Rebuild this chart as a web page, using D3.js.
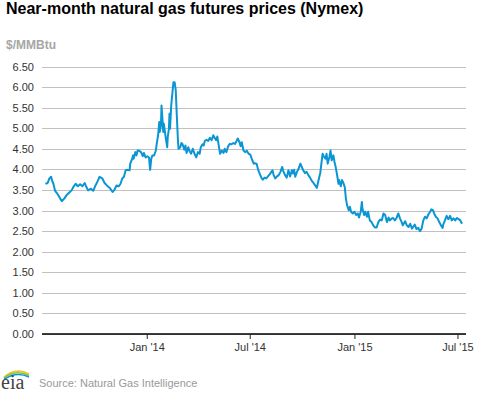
<!DOCTYPE html>
<html>
<head>
<meta charset="utf-8">
<script src="https://cdn.jsdelivr.net/npm/d3@7"></script>
<style>
  body { margin: 0; background: #fff; }
  svg { display: block; font-family: "Liberation Sans", Arial, sans-serif; }
</style>
</head>
<body>
<div id="chart"></div>
<script>
// near-month price, $/MMBtu
var dates = [
  '2013-07-07','2013-07-11','2013-07-14','2013-07-17','2013-07-19','2013-07-21','2013-07-24','2013-07-28',
  '2013-08-02','2013-08-05','2013-08-09','2013-08-13','2013-08-18','2013-08-22','2013-08-25','2013-08-29',
  '2013-09-02','2013-09-06','2013-09-10','2013-09-14','2013-09-17','2013-09-20','2013-09-25','2013-09-29',
  '2013-10-03','2013-10-07','2013-10-10','2013-10-15','2013-10-19','2013-10-23','2013-10-28',
  '2013-11-02','2013-11-05','2013-11-09','2013-11-13','2013-11-16','2013-11-19','2013-11-22','2013-11-25','2013-11-28',
  '2013-12-02','2013-12-03','2013-12-06','2013-12-08','2013-12-09','2013-12-12','2013-12-14','2013-12-16',
  '2013-12-19','2013-12-22','2013-12-25','2013-12-27','2013-12-30',
  '2014-01-02','2014-01-05','2014-01-07','2014-01-09','2014-01-11','2014-01-14','2014-01-17','2014-01-19',
  '2014-01-21','2014-01-23','2014-01-24','2014-01-26','2014-01-27','2014-01-29','2014-01-30','2014-01-31',
  '2014-02-02','2014-02-04','2014-02-06','2014-02-07','2014-02-09','2014-02-10','2014-02-11','2014-02-13',
  '2014-02-15','2014-02-17','2014-02-19','2014-02-21','2014-02-23','2014-02-25','2014-02-26',
  '2014-03-01','2014-03-03','2014-03-05','2014-03-08','2014-03-10','2014-03-12','2014-03-15','2014-03-17',
  '2014-03-20','2014-03-23','2014-03-26','2014-03-29',
  '2014-04-01','2014-04-04','2014-04-06','2014-04-09','2014-04-11','2014-04-13','2014-04-16','2014-04-19',
  '2014-04-22','2014-04-25','2014-04-28',
  '2014-05-01','2014-05-03','2014-05-05','2014-05-08','2014-05-10','2014-05-13','2014-05-16','2014-05-18',
  '2014-05-21','2014-05-24','2014-05-27','2014-05-30',
  '2014-06-02','2014-06-05','2014-06-08','2014-06-10','2014-06-13','2014-06-15','2014-06-17','2014-06-20',
  '2014-06-23','2014-06-26','2014-06-29',
  '2014-07-02','2014-07-05','2014-07-08','2014-07-10','2014-07-13','2014-07-16','2014-07-19','2014-07-22',
  '2014-07-24','2014-07-27','2014-07-30',
  '2014-08-02','2014-08-05','2014-08-08','2014-08-10','2014-08-12','2014-08-15','2014-08-18','2014-08-21',
  '2014-08-24','2014-08-27','2014-08-29',
  '2014-09-01','2014-09-04','2014-09-07','2014-09-10','2014-09-13','2014-09-15','2014-09-17','2014-09-19',
  '2014-09-22','2014-09-25','2014-09-28',
  '2014-10-01','2014-10-03','2014-10-06','2014-10-09','2014-10-12','2014-10-15','2014-10-18','2014-10-21',
  '2014-10-24','2014-10-27','2014-10-30',
  '2014-11-02','2014-11-04','2014-11-06','2014-11-08','2014-11-11','2014-11-13','2014-11-15','2014-11-18',
  '2014-11-20','2014-11-22','2014-11-25','2014-11-27','2014-11-29',
  '2014-12-02','2014-12-04','2014-12-05','2014-12-08','2014-12-10','2014-12-12','2014-12-15','2014-12-17',
  '2014-12-19','2014-12-22','2014-12-24','2014-12-26','2014-12-29',
  '2015-01-01','2015-01-04','2015-01-07','2015-01-09','2015-01-12','2015-01-14','2015-01-15','2015-01-18',
  '2015-01-20','2015-01-23','2015-01-25','2015-01-28','2015-01-31',
  '2015-02-03','2015-02-06','2015-02-09','2015-02-12','2015-02-15','2015-02-18','2015-02-21','2015-02-24','2015-02-27',
  '2015-03-02','2015-03-04','2015-03-07','2015-03-10','2015-03-13','2015-03-16','2015-03-19','2015-03-22',
  '2015-03-25','2015-03-27','2015-03-31',
  '2015-04-03','2015-04-06','2015-04-09','2015-04-12','2015-04-14','2015-04-17','2015-04-20','2015-04-23',
  '2015-04-26','2015-04-29',
  '2015-05-02','2015-05-05','2015-05-08','2015-05-11','2015-05-14','2015-05-16','2015-05-19','2015-05-21',
  '2015-05-24','2015-05-27','2015-05-30',
  '2015-06-02','2015-06-05','2015-06-06','2015-06-09','2015-06-12','2015-06-15','2015-06-18','2015-06-21',
  '2015-06-24','2015-06-27','2015-06-30',
  '2015-07-03','2015-07-06','2015-07-09'
];
var prices = [
  3.65,3.67,3.78,3.82,3.72,3.65,3.48,3.41,
  3.29,3.23,3.29,3.37,3.44,3.49,3.57,3.65,
  3.59,3.64,3.59,3.67,3.57,3.49,3.53,3.48,
  3.61,3.72,3.82,3.78,3.67,3.61,3.55,
  3.45,3.50,3.61,3.59,3.65,3.78,3.82,3.98,3.99,
  3.98,4.14,4.24,4.34,4.26,4.42,4.34,4.46,
  4.45,4.42,4.32,4.40,4.29,
  4.32,4.29,3.99,4.26,4.34,4.34,4.46,4.66,
  4.83,5.15,4.91,5.07,5.55,5.15,4.91,5.11,
  4.91,4.71,4.54,4.79,4.99,5.35,4.99,5.55,
  5.84,6.12,6.12,5.92,5.27,4.66,4.50,
  4.54,4.64,4.61,4.48,4.58,4.40,4.54,4.45,
  4.38,4.50,4.38,4.29,
  4.42,4.38,4.54,4.61,4.58,4.69,4.72,4.69,
  4.77,4.71,4.83,
  4.75,4.71,4.80,4.54,4.38,4.46,4.40,4.50,
  4.42,4.56,4.62,4.61,
  4.64,4.62,4.69,4.75,4.66,4.56,4.66,4.46,
  4.42,4.45,4.38,
  4.36,4.24,4.14,4.15,4.14,3.98,3.88,3.78,
  3.75,3.80,3.78,
  3.83,3.88,3.94,3.98,3.86,3.78,3.83,3.86,
  3.94,4.06,3.96,
  3.86,3.80,3.98,3.83,3.98,3.90,3.99,3.82,
  3.94,4.02,4.14,
  4.04,3.98,3.91,3.94,3.86,3.80,3.72,3.67,
  3.61,3.55,3.74,
  3.92,4.15,4.38,4.32,4.26,4.38,4.14,4.30,
  4.46,4.22,4.34,4.18,4.06,
  3.82,3.65,3.74,3.59,3.74,3.69,3.57,3.29,
  3.13,3.01,3.09,2.97,2.93,
  2.97,2.89,2.93,2.83,2.97,3.21,3.05,2.89,
  2.97,2.85,2.97,2.76,2.72,
  2.64,2.59,2.59,2.72,2.78,2.76,2.93,2.89,2.72,
  2.83,2.76,2.80,2.82,2.76,2.82,2.93,2.81,
  2.72,2.64,2.74,
  2.64,2.60,2.68,2.56,2.60,2.66,2.55,2.58,
  2.50,2.56,
  2.76,2.85,2.81,2.91,2.97,3.03,3.01,2.93,
  2.85,2.81,2.72,
  2.64,2.58,2.66,2.76,2.87,2.79,2.87,2.76,
  2.81,2.76,2.82,
  2.79,2.76,2.68
];
var yTicks = [0, 0.5, 1, 1.5, 2, 2.5, 3, 3.5, 4, 4.5, 5, 5.5, 6, 6.5];
var xTicks = ['2014-01-01', '2014-07-01', '2015-01-01', '2015-07-01'];
var xDomain = ['2013-07-01', '2015-07-16'];

var W = 477, H = 393,
  mLeft = 42, mRight = 466, mTop = 66.5, mBottom = 334;

var parse = d3.utcParse('%Y-%m-%d');
var data = dates.map(function (d, i) { return { date: parse(d), price: prices[i] }; });

var svg = d3.select('#chart').append('svg')
  .attr('width', W)
  .attr('height', H);

var x = d3.scaleUtc()
  .domain(xDomain.map(parse))
  .range([mLeft, mRight]);

var y = d3.scaleLinear()
  .domain([0, 6.5])
  .range([mBottom, mTop]);

// title + unit
svg.append('text')
  .attr('x', 6).attr('y', 14)
  .attr('font-size', 16).attr('font-weight', 'bold').attr('fill', '#000')
  .text('Near-month natural gas futures prices (Nymex)');

svg.append('text')
  .attr('x', 6).attr('y', 49)
  .attr('font-size', 12).attr('font-weight', 'bold').attr('fill', '#a6a6a6')
  .text('$/MMBtu');

// grid + y labels
var yAxis = d3.axisLeft(y)
  .tickValues(yTicks)
  .tickSize(-(mRight - mLeft))
  .tickPadding(8)
  .tickFormat(d3.format('.2f'));

var gy = svg.append('g')
  .attr('transform', 'translate(' + mLeft + ',0)')
  .call(yAxis);
gy.select('.domain').remove();
gy.selectAll('.tick line')
  .attr('stroke', '#c0c0c0')
  .attr('shape-rendering', 'crispEdges');
gy.selectAll('.tick text')
  .attr('font-size', 11)
  .attr('fill', '#333')
  .attr('font-family', '"Liberation Sans", Arial, sans-serif');

// x axis
var xAxis = d3.axisBottom(x)
  .tickValues(xTicks.map(parse))
  .tickSize(5)
  .tickPadding(4)
  .tickFormat(d3.utcFormat("%b '%y"));

var gx = svg.append('g')
  .attr('transform', 'translate(0,' + mBottom + ')')
  .call(xAxis);
gx.select('.domain')
  .attr('d', 'M' + mLeft + ',0H' + mRight)
  .attr('stroke', '#000')
  .attr('stroke-width', 1.5);
gx.selectAll('.tick line').attr('stroke', '#222');
gx.selectAll('.tick text')
  .attr('font-size', 11)
  .attr('fill', '#333')
  .attr('font-family', '"Liberation Sans", Arial, sans-serif');

// price line
var line = d3.line()
  .x(function (d) { return x(d.date); })
  .y(function (d) { return y(d.price); });

svg.append('path')
  .datum(data)
  .attr('d', line)
  .attr('fill', 'none')
  .attr('stroke', '#0a96d4')
  .attr('stroke-width', 2)
  .attr('stroke-linejoin', 'round');

// footer: eia mark + source
var logo = svg.append('g').attr('transform', 'translate(0,368)');
logo.append('path').attr('d', 'M4,9 Q16,-1 29,6').attr('fill', 'none').attr('stroke', '#f2c233').attr('stroke-width', 1.6);
logo.append('path').attr('d', 'M4,10 Q16,1 29,7.5').attr('fill', 'none').attr('stroke', '#8cc63f').attr('stroke-width', 1.6);
logo.append('path').attr('d', 'M4,11.5 Q16,3 29,9').attr('fill', 'none').attr('stroke', '#0a96d4').attr('stroke-width', 1.6);
logo.append('text')
  .attr('x', 1).attr('y', 21)
  .attr('font-family', '"Liberation Serif", "DejaVu Serif", serif')
  .attr('font-size', 20).attr('fill', '#444')
  .text('eia');

svg.append('text')
  .attr('x', 39).attr('y', 387)
  .attr('font-size', 11).attr('fill', '#999')
  .text('Source: Natural Gas Intelligence');
</script>
</body>
</html>
